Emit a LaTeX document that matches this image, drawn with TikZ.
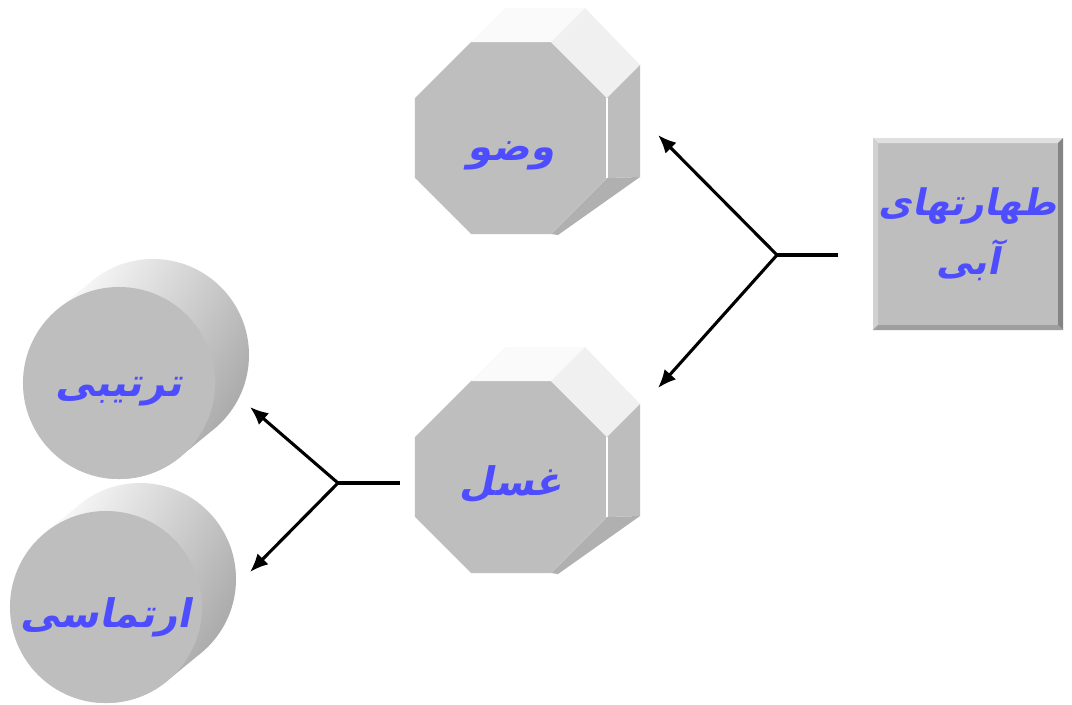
\documentclass[tikz,border=0pt]{standalone}
\usepackage{fontspec}
\usepackage{xcolor}
\usepackage{tikz}
\usetikzlibrary{arrows.meta, shapes.geometric}
\TeXXeTstate=1
\newfontfamily\arabicfont[Script=Arabic, FakeSlant=0.2]{DejaVu Sans Bold}
\definecolor{facegray}{RGB}{190,190,190}
\definecolor{labelblue}{RGB}{77,77,255}

\tikzset{
  arabtext/.style={text=labelblue, font=\arabicfont\fontsize{28}{42}\selectfont},
  octa/.style={regular polygon, regular polygon sides=8, minimum size=5.2cm, fill=facegray, inner sep=0pt, outer sep=0pt, arabtext},
  drum/.style={circle, minimum size=4.8cm, fill=facegray, inner sep=0pt, outer sep=0pt, arabtext},
  slab/.style={rectangle, minimum width=4.75cm, minimum height=4.8cm, fill=facegray, inner sep=0pt, outer sep=0pt, align=center, arabtext, font=\arabicfont\fontsize{26}{42}\selectfont},
  link/.style={line width=2.2pt, -{Latex[length=13pt, width=11pt]}},
}

\begin{document}
\begin{tikzpicture}[x=0.025cm, y=0.025cm]
        \useasboundingbox[fill=white] (0,0) rectangle (1072,-704);

        % Main box
        \node (taharat) [slab] at (968,-234) {\beginR طهارتهای\endR\\\beginR آبی\endR};
        \begin{scope}[shift={(taharat.center)}]
            \fill[white!88!black] (-95,96) -- (95,96) -- (90,91) -- (-90,91) -- cycle;
            \fill[white!82!black] (-95,96) -- (-90,91) -- (-90,-91) -- (-95,-96) -- cycle;
            \fill[black!48] (95,96) -- (95,-96) -- (90,-91) -- (90,91) -- cycle;
            \fill[black!38] (-95,-96) -- (95,-96) -- (90,-91) -- (-90,-91) -- cycle;
        \end{scope}

        % Octagons
        \node (wudu) [octa] at (511,-138) {\raisebox{-13pt}[\height][\depth]{\beginR وضو\endR}};
        \begin{scope}[shift={(wudu.center)}]
            \fill[white!98!black] (-40,96) -- (40,96) -- (74,130) -- (-6,130) -- cycle;
            \fill[black!6] (40,96) -- (96,40) -- (129,73) -- (74,130) -- cycle;
            \fill[black!26] (96,40) -- (129,73) -- (129,-39) -- (96,-40) -- cycle;
            \fill[black!31] (96,-40) -- (129,-39) -- (47,-97) -- (40,-96) -- cycle;
            \draw[white, line width=1pt] (96,40) -- (96,-40);
        \end{scope}

        \node (ghusl) [octa] at (511,-477) {\raisebox{-5pt}[\height][\depth]{\beginR غسل\endR}};
        \begin{scope}[shift={(ghusl.center)}]
            \fill[white!98!black] (-40,96) -- (40,96) -- (74,130) -- (-6,130) -- cycle;
            \fill[black!6] (40,96) -- (96,40) -- (129,73) -- (74,130) -- cycle;
            \fill[black!26] (96,40) -- (129,73) -- (129,-39) -- (96,-40) -- cycle;
            \fill[black!31] (96,-40) -- (129,-39) -- (47,-97) -- (40,-96) -- cycle;
            \draw[white, line width=1pt] (96,40) -- (96,-40);
        \end{scope}

        % Cylinders
        \begin{scope}[shift={(119,-383)}]
            \shade[top color=white, middle color=white, bottom color=black!34, shading angle=60]
                (0,0) circle (96) (34,28) circle (96)
                (61,-74) -- (95,-46) -- (-27,102) -- (-61,74) -- cycle;
        \end{scope}
        \node (tartibi) [drum] at (119,-383) {\raisebox{-6.5pt}[\height][\depth]{\beginR ترتیبی\endR}};

        \begin{scope}[shift={(106,-607)}]
            \shade[top color=white, middle color=white, bottom color=black!34, shading angle=60]
                (0,0) circle (96) (34,28) circle (96)
                (61,-74) -- (95,-46) -- (-27,102) -- (-61,74) -- cycle;
        \end{scope}
        \node (irtimasi) [drum] at (106,-607) {\raisebox{-7pt}[\height][\depth]{\beginR ارتماسی\endR}};

        % Forks
        \coordinate (tstem) at (838,-255);
        \coordinate (tjoint) at (777,-255);
        \coordinate (wudutip) at (658,-135);
        \coordinate (ghusltip) at (658,-388);
        \draw[line width=2.2pt] (tstem) -- (tjoint);
        \draw[link] (tjoint) -- (wudutip);
        \draw[link] (tjoint) -- (ghusltip);

        \coordinate (gstem) at (400,-483);
        \coordinate (gjoint) at (338,-483);
        \coordinate (tartibitip) at (250,-407);
        \coordinate (irtimasitip) at (250,-572);
        \draw[line width=2.2pt] (gstem) -- (gjoint);
        \draw[link] (gjoint) -- (tartibitip);
        \draw[link] (gjoint) -- (irtimasitip);
    \end{tikzpicture}
\end{document}
